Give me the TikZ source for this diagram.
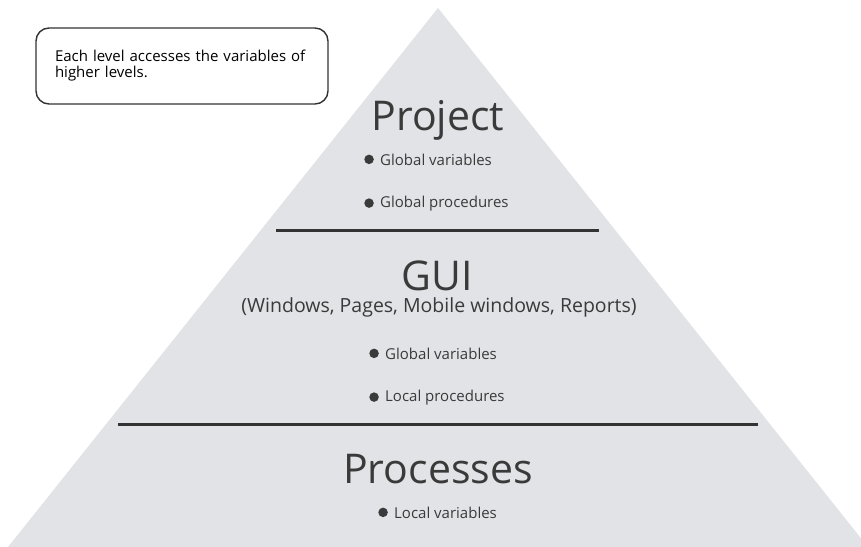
\documentclass[tikz,border=0pt]{standalone}
\usepackage{fontspec}
\setmainfont{Open Sans}
\usetikzlibrary{positioning}
\definecolor{pyrfill}{HTML}{E2E3E7}
\definecolor{pyrtext}{HTML}{3A3A3A}
\definecolor{pyrline}{HTML}{333333}
\tikzset{
  level/.style={text=pyrtext, font=\fontsize{41}{44}\selectfont, inner sep=0pt, anchor=base},
  sub/.style={text=pyrtext, font=\fontsize{19.5}{22}\selectfont, inner sep=0pt, anchor=base},
  item/.style={text=pyrtext, font=\fontsize{15}{16}\selectfont, inner sep=0pt, anchor=base west},
  dot/.style={circle, fill=pyrtext, inner sep=0pt, minimum size=9.5pt},
  sep/.style={draw=pyrline, line width=3pt},
  note/.style={draw=pyrline, line width=1.4pt, rounded corners=13pt, fill=white,
    text=black, font=\fontsize{15}{16}\selectfont, align=left,
    text width=254pt, inner xsep=19pt, inner ysep=0pt, minimum height=76pt}
}
\begin{document}
\begin{tikzpicture}[x=1pt,y=-1pt]
        \useasboundingbox (0,0) rectangle (861,546);
        \clip (0,0) rectangle (861,546);
        % Pyramid
        \fill[pyrfill] (8,547) -- (438,8) -- (868,547) -- cycle;
        % Separators
        \coordinate (s1l) at (276,230);
        \coordinate (s1r) at (599,230);
        \coordinate (s2l) at (118,424);
        \coordinate (s2r) at (758,424);
        \draw[sep] (s1l) -- (s1r);
        \draw[sep] (s2l) -- (s2r);
        % Note
        \node[note] (note) at (182,66) {Each level accesses the variables of higher levels.};
        % Project level
        \node[level] (project) at (438,130) {Project};
        \node[item] (gv1) at (380,165) {Global variables};
        \node[item] (gp1) at (380,207) {Global procedures};
        % GUI level
        \node[level] (gui) at (437,290) {GUI};
        \node[sub] (guisub) at (439,312) {(Windows, Pages, Mobile windows, Reports)};
        \node[item] (gv2) at (385,359) {Global variables};
        \node[item] (lp2) at (385,401) {Local procedures};
        % Processes level
        \node[level] (proc) at (438,483) {Processes};
        \node[item] (lv3) at (394,518) {Local variables};
        % Bullets
        \foreach \n in {gv1,gp1,gv2,lp2,lv3}
          \node[dot, left=6pt of \n] (\n dot) {};
    \end{tikzpicture}
\end{document}
